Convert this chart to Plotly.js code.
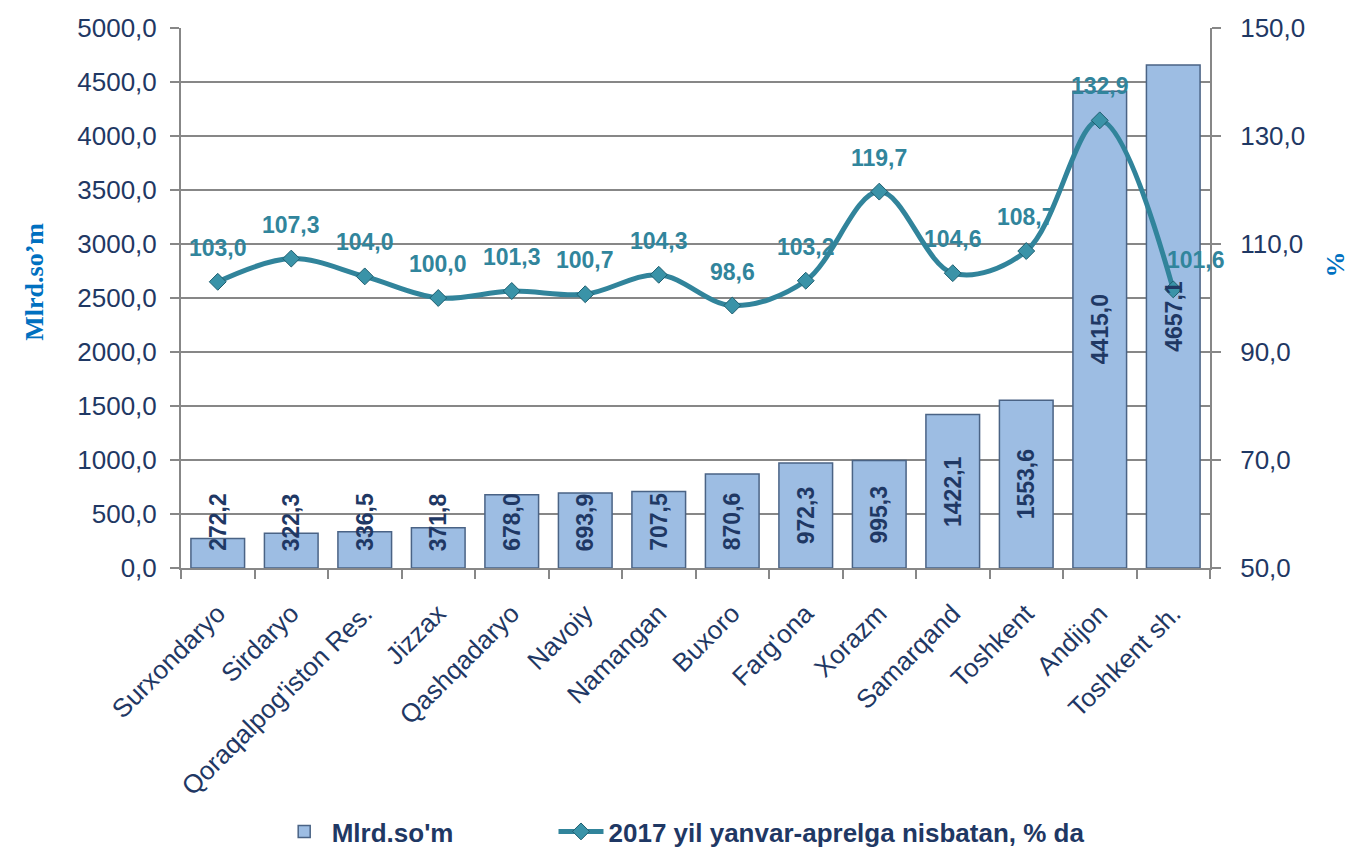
<!DOCTYPE html>
<html>
<head>
<meta charset="utf-8">
<script src="https://cdn.plot.ly/plotly-3.0.1.min.js"></script>
<style>html,body{margin:0;padding:0;background:#fff;}#chart{width:1366px;height:852px;}</style>
</head>
<body>
<div id="chart"></div>
<script>
const categories = ["Surxondaryo","Sirdaryo","Qoraqalpog'iston Res.","Jizzax","Qashqadaryo","Navoiy","Namangan","Buxoro","Farg'ona","Xorazm","Samarqand","Toshkent","Andijon","Toshkent sh."];
const mlrdSom = [272.2,322.3,336.5,371.8,678.0,693.9,707.5,870.6,972.3,995.3,1422.1,1553.6,4415.0,4657.1];
const percent = [103.0,107.3,104.0,100.0,101.3,100.7,104.3,98.6,103.2,119.7,104.6,108.7,132.9,101.6];
const barName = "Mlrd.so'm";
const lineName = "2017 yil yanvar-aprelga nisbatan, % da";
const leftTitle = "Mlrd.so\u2019m";
const rightTitle = "%";

const fmt = v => v.toFixed(1).replace('.', ',');
const FONT = '"Liberation Sans", Arial, sans-serif';
const NAVY = '#1F3864';
const TEAL = '#31859C';
const GRID = '#878787';

const bars = {
  type: 'bar', name: barName, x: categories, y: mlrdSom,
  marker: {color: '#9DBDE3', line: {color: '#4A6385', width: 1.5}},
  legend: 'legend'
};
const line = {
  type: 'scatter', mode: 'lines+markers', name: lineName, x: categories, y: percent, yaxis: 'y2',
  line: {color: '#31849B', width: 5, shape: 'spline', smoothing: 1},
  marker: {symbol: 'diamond', size: 13, color: '#3A93A8', line: {color: '#1F5F70', width: 1}},
  legend: 'legend2'
};

const annotations = [];
categories.forEach((c, i) => {
  annotations.push({
    x: c, y: Math.max(mlrdSom[i] / 2, 425), xref: 'x', yref: 'y',
    text: fmt(mlrdSom[i]), textangle: -90, showarrow: false,
    font: {family: FONT, size: 23, color: NAVY, weight: 'bold'}
  });
  const last = i === categories.length - 1;
  annotations.push({
    x: c, y: percent[i], xref: 'x', yref: 'y2',
    text: fmt(percent[i]), showarrow: false,
    yshift: last ? 29 : 34, xshift: last ? 23 : 0,
    font: {family: FONT, size: 23, color: TEAL, weight: 'bold'}
  });
});
annotations.push({
  xref: 'paper', yref: 'paper', x: -0.158, y: 0.53, text: leftTitle, textangle: -90, showarrow: false,
  font: {family: '"Liberation Serif", "Times New Roman", serif', size: 26, color: '#0070C0', weight: 'bold'}
});
annotations.push({
  xref: 'paper', yref: 'paper', x: 1.138, y: 0.561, text: rightTitle, textangle: -90, showarrow: false,
  font: {family: '"Liberation Serif", "Times New Roman", serif', size: 26, color: '#0070C0', weight: 'bold'}
});

const legendFont = {family: FONT, size: 26, color: NAVY, weight: 'bold'};
const layout = {
  width: 1366, height: 852,
  margin: {l: 181, r: 156, t: 28, b: 284, autoexpand: false},
  paper_bgcolor: '#fff', plot_bgcolor: '#fff',
  separators: ', ',
  bargap: 0.27,
  showlegend: true,
  font: {family: FONT, color: NAVY},
  xaxis: {
    type: 'category', range: [-0.5, 13.5], tickangle: -45, tickson: 'boundaries', ticks: 'outside', ticklen: 9,
    tickcolor: GRID, tickwidth: 2, showline: true, linecolor: GRID, linewidth: 2,
    tickfont: {family: FONT, size: 26, color: NAVY}, showgrid: false, ticklabelstandoff: 18
  },
  yaxis: {
    range: [0, 5000], dtick: 500, tickformat: '.1f', ticks: 'outside', ticklen: 9,
    tickcolor: GRID, tickwidth: 2, showline: true, linecolor: GRID, linewidth: 2,
    showgrid: true, gridcolor: GRID, gridwidth: 1.5, zeroline: false, ticklabelstandoff: 8,
    tickfont: {family: FONT, size: 26, color: NAVY}
  },
  yaxis2: {
    range: [50, 150], tick0: 50, dtick: 20, tickformat: '.1f', overlaying: 'y', side: 'right',
    ticks: 'outside', ticklen: 9, tickcolor: GRID, tickwidth: 2, showline: true, linecolor: GRID, linewidth: 2,
    showgrid: false, zeroline: false, ticklabelstandoff: 14,
    tickfont: {family: FONT, size: 26, color: NAVY}
  },
  legend: {
    orientation: 'h', x: 0.093, xanchor: 'left', y: -0.488, yanchor: 'middle',
    itemwidth: 45, font: legendFont
  },
  legend2: {
    orientation: 'h', x: 0.362, xanchor: 'left', y: -0.488, yanchor: 'middle',
    itemwidth: 45, font: legendFont
  },
  annotations: annotations
};

Plotly.newPlot('chart', [bars, line], layout, {displayModeBar: false, staticPlot: true});
</script>
</body>
</html>
